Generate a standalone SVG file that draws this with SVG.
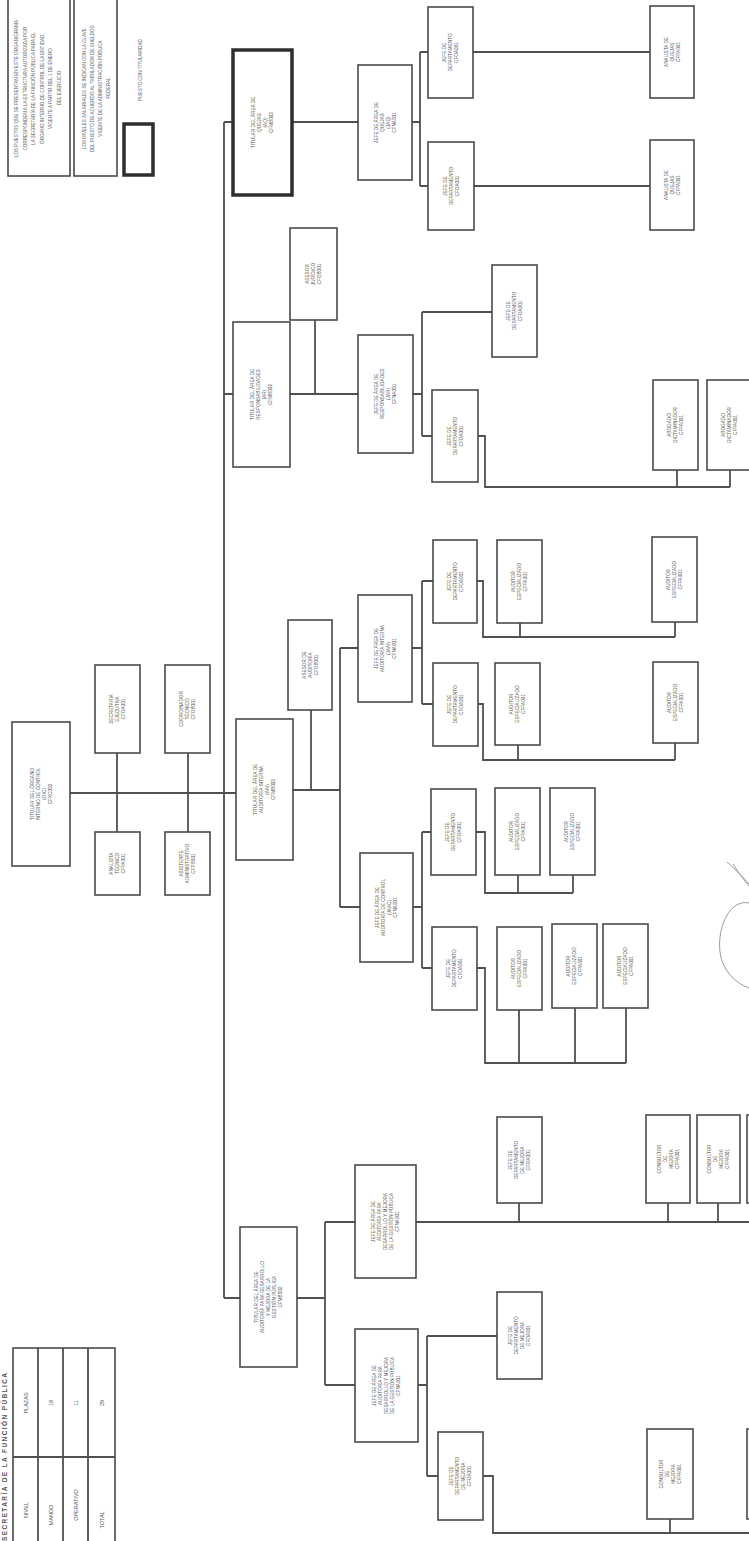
<svg xmlns="http://www.w3.org/2000/svg" width="749" height="1541" viewBox="0 0 749 1541">
<style>
.bx{fill:#fff;stroke:#4a4a4a;stroke-width:1.6}
.thick{fill:#fff;stroke:#2e2e2e;stroke-width:3.5}
.c{fill:none;stroke:#505050;stroke-width:1.8}
.t{font-family:"Liberation Sans",Arial,sans-serif;font-size:4.7px;fill:#555;text-anchor:middle}
.lg{font-family:"Liberation Sans",Arial,sans-serif;font-size:4.6px;fill:#666;text-anchor:middle}
.tb{font-family:"Liberation Sans",Arial,sans-serif;font-size:5.5px;fill:#555;text-anchor:middle}
.hd{font-family:"Liberation Sans",Arial,sans-serif;font-size:6.5px;font-weight:bold;fill:#555}
.sk{fill:none;stroke:#9a9a9a;stroke-width:1}
</style>
<rect x="0" y="0" width="749" height="1541" fill="#fff"/>

<g id="connectors">
<path class="c" d="M70,793 H236"/>
<path class="c" d="M117,753 V832 M188,753 V832"/>
<path class="c" d="M224,122 V1298 M224,122 H233 M224,394 H233 M224,1298 H240"/>
<path class="c" d="M292,122 H358"/>
<path class="c" d="M412,122 H420 M420,52 V186 M420,52 H428 M420,186 H428"/>
<path class="c" d="M473,52 H650 M474,186 H650"/>
<path class="c" d="M290,394 H358 M315,320 V394"/>
<path class="c" d="M413,394 H422 M422,312 V436 M422,312 H492 M422,436 H432"/>
<path class="c" d="M478,436 H485 V487 H730 M677,470 V487 M730,470 V487"/>
<path class="c" d="M293,790 H340 M340,648 V907 M340,648 H358 M340,907 H360 M311,710 V790"/>
<path class="c" d="M412,648 H422 M422,581 V704 M422,581 H433 M422,704 H433"/>
<path class="c" d="M477,581 H483 V637 H675 M520,623 V637 M675,622 V637"/>
<path class="c" d="M478,704 H483 V760 H675 M518,745 V760 M675,743 V760"/>
<path class="c" d="M413,907 H422 M422,832 V968 M422,832 H431 M422,968 H432"/>
<path class="c" d="M476,832 H485 V893 H573 M518,875 V893 M573,875 V893"/>
<path class="c" d="M477,968 H485 V1063 H626 M519,1010 V1063 M575,1008 V1063 M626,1008 V1063"/>
<path class="c" d="M297,1298 H325 M325,1222 V1385 M325,1222 H355 M325,1385 H355"/>
<path class="c" d="M416,1222 H749 M519,1203 V1222 M668,1203 V1222 M718,1203 V1222"/>
<path class="c" d="M418,1385 H427 M427,1336 V1476 M427,1336 H497 M427,1476 H438"/>
<path class="c" d="M483,1476 H493 V1533 H749 M670,1519 V1533"/>
</g>

<g id="legend">
<rect class="bx" x="8" y="-2" width="62" height="178"/>
<g transform="translate(39,88) rotate(-90)"><text class="lg">
<tspan x="0" y="-21">LOS PUESTOS QUE SE PRESENTAN EN ESTE ORGANIGRAMA</tspan>
<tspan x="0" y="-12.5">CORRESPONDEN A LA ESTRUCTURA AUTORIZADA POR</tspan>
<tspan x="0" y="-4">LA SECRETARÍA DE LA FUNCIÓN PÚBLICA PARA EL</tspan>
<tspan x="0" y="4.5">ÓRGANO INTERNO DE CONTROL DE LA ENTIDAD,</tspan>
<tspan x="0" y="13">VIGENTE A PARTIR DEL 1 DE ENERO</tspan>
<tspan x="0" y="21.5">DEL EJERCICIO</tspan>
</text></g>
<rect class="bx" x="74" y="-2" width="43" height="178"/>
<g transform="translate(95.5,88) rotate(-90)"><text class="lg">
<tspan x="0" y="-10">LOS NIVELES SALARIALES SE INDICAN CON LA CLAVE</tspan>
<tspan x="0" y="-2">DEL PUESTO DE ACUERDO AL TABULADOR DE SUELDOS</tspan>
<tspan x="0" y="6">VIGENTE DE LA ADMINISTRACIÓN PÚBLICA</tspan>
<tspan x="0" y="14">FEDERAL</tspan>
</text></g>
<g transform="translate(140,70) rotate(-90)"><text class="lg"><tspan x="0" y="1.6">PUESTO CON TITULARIDAD</tspan></text></g>
<rect class="thick" x="124" y="124" width="29" height="51"/>
</g>

<g id="table">
<g transform="translate(7,1541) rotate(-90)"><text class="hd" x="0" y="0" textLength="168" lengthAdjust="spacing">SECRETARÍA DE LA FUNCIÓN PÚBLICA</text></g>
<rect class="bx" x="13" y="1348" width="102" height="215"/>
<path class="c" d="M38,1348 V1541 M63,1348 V1541 M88,1348 V1541 M13,1457 H115"/>
<g transform="translate(25.5,1403) rotate(-90)"><text class="tb" y="2">PLAZAS</text></g>
<g transform="translate(25.5,1510) rotate(-90)"><text class="tb" y="2">NIVEL</text></g>
<g transform="translate(50.5,1403) rotate(-90)"><text class="tb" y="2">18</text></g>
<g transform="translate(50.5,1515) rotate(-90)"><text class="tb" y="2">MANDO</text></g>
<g transform="translate(75.5,1403) rotate(-90)"><text class="tb" y="2">11</text></g>
<g transform="translate(75.5,1505) rotate(-90)"><text class="tb" y="2">OPERATIVO</text></g>
<g transform="translate(101.5,1403) rotate(-90)"><text class="tb" y="2">29</text></g>
<g transform="translate(101.5,1520) rotate(-90)"><text class="tb" y="2">TOTAL</text></g>
</g>

<g id="root"><rect class="bx" x="12" y="722" width="58" height="144"/>
<g transform="translate(41,794) rotate(-90)"><text class="t"><tspan x="0" y="-7.4">TITULAR DEL ÓRGANO</tspan><tspan x="0" y="-1.4">INTERNO DE CONTROL</tspan><tspan x="0" y="4.6">(OIC)</tspan><tspan x="0" y="10.6">CFKC002</tspan></text></g></g>

<g id="staff-a"><rect class="bx" x="95" y="665" width="45" height="88"/>
<g transform="translate(117.5,709) rotate(-90)"><text class="t"><tspan x="0" y="-4.4">SECRETARIA</tspan><tspan x="0" y="1.6">EJECUTIVA</tspan><tspan x="0" y="7.6">CFOA001</tspan></text></g></g>
<g id="staff-b"><rect class="bx" x="165" y="665" width="45" height="88"/>
<g transform="translate(187.5,709) rotate(-90)"><text class="t"><tspan x="0" y="-4.4">COORDINADOR</tspan><tspan x="0" y="1.6">TÉCNICO</tspan><tspan x="0" y="7.6">CFOB001</tspan></text></g></g>
<g id="staff-c"><rect class="bx" x="95" y="832" width="45" height="63"/>
<g transform="translate(117.5,863.5) rotate(-90)"><text class="t"><tspan x="0" y="-4.4">ANALISTA</tspan><tspan x="0" y="1.6">TÉCNICO</tspan><tspan x="0" y="7.6">CFPA001</tspan></text></g></g>
<g id="staff-d"><rect class="bx" x="165" y="832" width="45" height="63"/>
<g transform="translate(187.5,863.5) rotate(-90)"><text class="t"><tspan x="0" y="-4.4">ASISTENTE</tspan><tspan x="0" y="1.6">ADMINISTRATIVO</tspan><tspan x="0" y="7.6">CFPB001</tspan></text></g></g>

<g id="area-quejas"><rect class="thick" x="233" y="50" width="59" height="145"/>
<g transform="translate(262.5,122.5) rotate(-90)"><text class="t"><tspan x="0" y="-7.4">TITULAR DEL ÁREA DE</tspan><tspan x="0" y="-1.4">QUEJAS</tspan><tspan x="0" y="4.6">(AQ)</tspan><tspan x="0" y="10.6">CFMB002</tspan></text></g></g>
<g id="area-responsabilidades"><rect class="bx" x="233" y="322" width="57" height="145"/>
<g transform="translate(261.5,394.5) rotate(-90)"><text class="t"><tspan x="0" y="-7.4">TITULAR DEL ÁREA DE</tspan><tspan x="0" y="-1.4">RESPONSABILIDADES</tspan><tspan x="0" y="4.6">(AR)</tspan><tspan x="0" y="10.6">CFMB002</tspan></text></g></g>
<g id="area-auditoria"><rect class="bx" x="236" y="719" width="57" height="141"/>
<g transform="translate(264.5,789.5) rotate(-90)"><text class="t"><tspan x="0" y="-7.4">TITULAR DEL ÁREA DE</tspan><tspan x="0" y="-1.4">AUDITORÍA INTERNA</tspan><tspan x="0" y="4.6">(AAI)</tspan><tspan x="0" y="10.6">CFMB002</tspan></text></g></g>
<g id="area-mejora"><rect class="bx" x="240" y="1227" width="57" height="140"/>
<g transform="translate(268.5,1297) rotate(-90)"><text class="t"><tspan x="0" y="-10.4">TITULAR DEL ÁREA DE</tspan><tspan x="0" y="-4.4">AUDITORÍA PARA DESARROLLO</tspan><tspan x="0" y="1.6">Y MEJORA DE LA</tspan><tspan x="0" y="7.6">GESTIÓN PÚBLICA</tspan><tspan x="0" y="13.6">CFMB002</tspan></text></g></g>

<g id="asesor-resp"><rect class="bx" x="290" y="228" width="47" height="92"/>
<g transform="translate(313.5,274) rotate(-90)"><text class="t"><tspan x="0" y="-4.4">ASESOR</tspan><tspan x="0" y="1.6">JURÍDICO</tspan><tspan x="0" y="7.6">CFOB001</tspan></text></g></g>
<g id="asesor-aud"><rect class="bx" x="288" y="620" width="44" height="90"/>
<g transform="translate(310,665) rotate(-90)"><text class="t"><tspan x="0" y="-4.4">ASESOR DE</tspan><tspan x="0" y="1.6">AUDITORÍA</tspan><tspan x="0" y="7.6">CFOB001</tspan></text></g></g>

<g id="jefe-quejas"><rect class="bx" x="358" y="65" width="54" height="115"/>
<g transform="translate(385,122.5) rotate(-90)"><text class="t"><tspan x="0" y="-7.4">JEFE DE ÁREA DE</tspan><tspan x="0" y="-1.4">QUEJAS</tspan><tspan x="0" y="4.6">(JAQ)</tspan><tspan x="0" y="10.6">CFNA001</tspan></text></g></g>
<g id="q1"><rect class="bx" x="428" y="7" width="45" height="91"/>
<g transform="translate(450.5,52.5) rotate(-90)"><text class="t"><tspan x="0" y="-4.4">JEFE DE</tspan><tspan x="0" y="1.6">DEPARTAMENTO</tspan><tspan x="0" y="7.6">CFOA001</tspan></text></g></g>
<g id="q2"><rect class="bx" x="428" y="142" width="46" height="88"/>
<g transform="translate(451,186) rotate(-90)"><text class="t"><tspan x="0" y="-4.4">JEFE DE</tspan><tspan x="0" y="1.6">DEPARTAMENTO</tspan><tspan x="0" y="7.6">CFOA001</tspan></text></g></g>
<g id="q1a"><rect class="bx" x="650" y="6" width="44" height="92"/>
<g transform="translate(672,52) rotate(-90)"><text class="t"><tspan x="0" y="-4.4">ANALISTA DE</tspan><tspan x="0" y="1.6">QUEJAS</tspan><tspan x="0" y="7.6">CFPA001</tspan></text></g></g>
<g id="q2a"><rect class="bx" x="650" y="140" width="44" height="90"/>
<g transform="translate(672,185) rotate(-90)"><text class="t"><tspan x="0" y="-4.4">ANALISTA DE</tspan><tspan x="0" y="1.6">QUEJAS</tspan><tspan x="0" y="7.6">CFPA001</tspan></text></g></g>

<g id="jefe-resp"><rect class="bx" x="358" y="335" width="55" height="118"/>
<g transform="translate(385.5,394) rotate(-90)"><text class="t"><tspan x="0" y="-7.4">JEFE DE ÁREA DE</tspan><tspan x="0" y="-1.4">RESPONSABILIDADES</tspan><tspan x="0" y="4.6">(JAR)</tspan><tspan x="0" y="10.6">CFNA001</tspan></text></g></g>
<g id="r1"><rect class="bx" x="492" y="265" width="45" height="92"/>
<g transform="translate(514.5,311) rotate(-90)"><text class="t"><tspan x="0" y="-4.4">JEFE DE</tspan><tspan x="0" y="1.6">DEPARTAMENTO</tspan><tspan x="0" y="7.6">CFOA001</tspan></text></g></g>
<g id="r2"><rect class="bx" x="432" y="390" width="46" height="92"/>
<g transform="translate(455,436) rotate(-90)"><text class="t"><tspan x="0" y="-4.4">JEFE DE</tspan><tspan x="0" y="1.6">DEPARTAMENTO</tspan><tspan x="0" y="7.6">CFOA001</tspan></text></g></g>
<g id="r2a"><rect class="bx" x="653" y="380" width="45" height="90"/>
<g transform="translate(675.5,425) rotate(-90)"><text class="t"><tspan x="0" y="-4.4">ABOGADO</tspan><tspan x="0" y="1.6">DICTAMINADOR</tspan><tspan x="0" y="7.6">CFPA001</tspan></text></g></g>
<g id="r2b"><rect class="bx" x="707" y="380" width="45" height="90"/>
<g transform="translate(729.5,425) rotate(-90)"><text class="t"><tspan x="0" y="-4.4">ABOGADO</tspan><tspan x="0" y="1.6">DICTAMINADOR</tspan><tspan x="0" y="7.6">CFPA001</tspan></text></g></g>

<g id="jefe-aud-1"><rect class="bx" x="358" y="595" width="54" height="107"/>
<g transform="translate(385,648.5) rotate(-90)"><text class="t"><tspan x="0" y="-7.4">JEFE DE ÁREA DE</tspan><tspan x="0" y="-1.4">AUDITORÍA INTERNA</tspan><tspan x="0" y="4.6">(JAAI)</tspan><tspan x="0" y="10.6">CFNA001</tspan></text></g></g>
<g id="a1"><rect class="bx" x="433" y="540" width="44" height="83"/>
<g transform="translate(455,581.5) rotate(-90)"><text class="t"><tspan x="0" y="-4.4">JEFE DE</tspan><tspan x="0" y="1.6">DEPARTAMENTO</tspan><tspan x="0" y="7.6">CFOA001</tspan></text></g></g>
<g id="a1b"><rect class="bx" x="497" y="540" width="45" height="83"/>
<g transform="translate(519.5,581.5) rotate(-90)"><text class="t"><tspan x="0" y="-4.4">AUDITOR</tspan><tspan x="0" y="1.6">ESPECIALIZADO</tspan><tspan x="0" y="7.6">CFPA001</tspan></text></g></g>
<g id="a1c"><rect class="bx" x="652" y="537" width="45" height="85"/>
<g transform="translate(674.5,579.5) rotate(-90)"><text class="t"><tspan x="0" y="-4.4">AUDITOR</tspan><tspan x="0" y="1.6">ESPECIALIZADO</tspan><tspan x="0" y="7.6">CFPA001</tspan></text></g></g>
<g id="a2"><rect class="bx" x="433" y="663" width="45" height="83"/>
<g transform="translate(455.5,704.5) rotate(-90)"><text class="t"><tspan x="0" y="-4.4">JEFE DE</tspan><tspan x="0" y="1.6">DEPARTAMENTO</tspan><tspan x="0" y="7.6">CFOA001</tspan></text></g></g>
<g id="a2b"><rect class="bx" x="495" y="663" width="45" height="82"/>
<g transform="translate(517.5,704) rotate(-90)"><text class="t"><tspan x="0" y="-4.4">AUDITOR</tspan><tspan x="0" y="1.6">ESPECIALIZADO</tspan><tspan x="0" y="7.6">CFPA001</tspan></text></g></g>
<g id="a2c"><rect class="bx" x="653" y="662" width="45" height="81"/>
<g transform="translate(675.5,702.5) rotate(-90)"><text class="t"><tspan x="0" y="-4.4">AUDITOR</tspan><tspan x="0" y="1.6">ESPECIALIZADO</tspan><tspan x="0" y="7.6">CFPA001</tspan></text></g></g>

<g id="jefe-aud-2"><rect class="bx" x="360" y="853" width="53" height="109"/>
<g transform="translate(386.5,907.5) rotate(-90)"><text class="t"><tspan x="0" y="-7.4">JEFE DE ÁREA DE</tspan><tspan x="0" y="-1.4">AUDITORÍA DE CONTROL</tspan><tspan x="0" y="4.6">(JAAC)</tspan><tspan x="0" y="10.6">CFNA001</tspan></text></g></g>
<g id="b1"><rect class="bx" x="431" y="789" width="45" height="86"/>
<g transform="translate(453.5,832) rotate(-90)"><text class="t"><tspan x="0" y="-4.4">JEFE DE</tspan><tspan x="0" y="1.6">DEPARTAMENTO</tspan><tspan x="0" y="7.6">CFOA001</tspan></text></g></g>
<g id="b1b"><rect class="bx" x="495" y="788" width="45" height="87"/>
<g transform="translate(517.5,831.5) rotate(-90)"><text class="t"><tspan x="0" y="-4.4">AUDITOR</tspan><tspan x="0" y="1.6">ESPECIALIZADO</tspan><tspan x="0" y="7.6">CFPA001</tspan></text></g></g>
<g id="b1c"><rect class="bx" x="550" y="788" width="45" height="87"/>
<g transform="translate(572.5,831.5) rotate(-90)"><text class="t"><tspan x="0" y="-4.4">AUDITOR</tspan><tspan x="0" y="1.6">ESPECIALIZADO</tspan><tspan x="0" y="7.6">CFPA001</tspan></text></g></g>
<g id="b2"><rect class="bx" x="432" y="927" width="45" height="83"/>
<g transform="translate(454.5,968.5) rotate(-90)"><text class="t"><tspan x="0" y="-4.4">JEFE DE</tspan><tspan x="0" y="1.6">DEPARTAMENTO</tspan><tspan x="0" y="7.6">CFOA001</tspan></text></g></g>
<g id="b2b"><rect class="bx" x="497" y="927" width="45" height="83"/>
<g transform="translate(519.5,968.5) rotate(-90)"><text class="t"><tspan x="0" y="-4.4">AUDITOR</tspan><tspan x="0" y="1.6">ESPECIALIZADO</tspan><tspan x="0" y="7.6">CFPA001</tspan></text></g></g>
<g id="b2c"><rect class="bx" x="552" y="924" width="45" height="84"/>
<g transform="translate(574.5,966) rotate(-90)"><text class="t"><tspan x="0" y="-4.4">AUDITOR</tspan><tspan x="0" y="1.6">ESPECIALIZADO</tspan><tspan x="0" y="7.6">CFPA001</tspan></text></g></g>
<g id="b2d"><rect class="bx" x="603" y="924" width="45" height="84"/>
<g transform="translate(625.5,966) rotate(-90)"><text class="t"><tspan x="0" y="-4.4">AUDITOR</tspan><tspan x="0" y="1.6">ESPECIALIZADO</tspan><tspan x="0" y="7.6">CFPA001</tspan></text></g></g>

<g id="jefe-mejora-1"><rect class="bx" x="355" y="1165" width="61" height="113"/>
<g transform="translate(385.5,1221.5) rotate(-90)"><text class="t"><tspan x="0" y="-10.4">JEFE DE ÁREA DE</tspan><tspan x="0" y="-4.4">AUDITORÍA PARA</tspan><tspan x="0" y="1.6">DESARROLLO Y MEJORA</tspan><tspan x="0" y="7.6">DE LA GESTIÓN PÚBLICA</tspan><tspan x="0" y="13.6">CFNA001</tspan></text></g></g>
<g id="m1"><rect class="bx" x="497" y="1117" width="45" height="86"/>
<g transform="translate(519.5,1160) rotate(-90)"><text class="t"><tspan x="0" y="-7.4">JEFE DE</tspan><tspan x="0" y="-1.4">DEPARTAMENTO</tspan><tspan x="0" y="4.6">DE MEJORA</tspan><tspan x="0" y="10.6">CFOA001</tspan></text></g></g>
<g id="m2"><rect class="bx" x="646" y="1115" width="44" height="88"/>
<g transform="translate(668,1159) rotate(-90)"><text class="t"><tspan x="0" y="-7.4">CONSULTOR</tspan><tspan x="0" y="-1.4">DE</tspan><tspan x="0" y="4.6">MEJORA</tspan><tspan x="0" y="10.6">CFPA001</tspan></text></g></g>
<g id="m3"><rect class="bx" x="697" y="1115" width="43" height="88"/>
<g transform="translate(718.5,1159) rotate(-90)"><text class="t"><tspan x="0" y="-7.4">CONSULTOR</tspan><tspan x="0" y="-1.4">DE</tspan><tspan x="0" y="4.6">MEJORA</tspan><tspan x="0" y="10.6">CFPA001</tspan></text></g></g>
<g id="m4"><rect class="bx" x="747" y="1115" width="45" height="88"/></g>

<g id="jefe-mejora-2"><rect class="bx" x="355" y="1329" width="63" height="113"/>
<g transform="translate(386.5,1385.5) rotate(-90)"><text class="t"><tspan x="0" y="-10.4">JEFE DE ÁREA DE</tspan><tspan x="0" y="-4.4">AUDITORÍA PARA</tspan><tspan x="0" y="1.6">DESARROLLO Y MEJORA</tspan><tspan x="0" y="7.6">DE LA GESTIÓN PÚBLICA</tspan><tspan x="0" y="13.6">CFNA001</tspan></text></g></g>
<g id="n1"><rect class="bx" x="497" y="1292" width="45" height="87"/>
<g transform="translate(519.5,1335.5) rotate(-90)"><text class="t"><tspan x="0" y="-7.4">JEFE DE</tspan><tspan x="0" y="-1.4">DEPARTAMENTO</tspan><tspan x="0" y="4.6">DE MEJORA</tspan><tspan x="0" y="10.6">CFOA001</tspan></text></g></g>
<g id="n2"><rect class="bx" x="438" y="1432" width="45" height="88"/>
<g transform="translate(460.5,1476) rotate(-90)"><text class="t"><tspan x="0" y="-7.4">JEFE DE</tspan><tspan x="0" y="-1.4">DEPARTAMENTO</tspan><tspan x="0" y="4.6">DE MEJORA</tspan><tspan x="0" y="10.6">CFOA001</tspan></text></g></g>
<g id="n2a"><rect class="bx" x="647" y="1429" width="46" height="90"/>
<g transform="translate(670,1474) rotate(-90)"><text class="t"><tspan x="0" y="-7.4">CONSULTOR</tspan><tspan x="0" y="-1.4">DE</tspan><tspan x="0" y="4.6">MEJORA</tspan><tspan x="0" y="10.6">CFPA001</tspan></text></g></g>
<g id="n2b"><rect class="bx" x="747" y="1429" width="45" height="90"/></g>

<g id="sketch">
<path class="sk" d="M727,862 C734,868 742,876 749,884"/>
<path class="sk" d="M749,903 C731,899 717,925 720,952 C722,970 735,983 749,988"/>
<path class="sk" d="M733,864 C738,872 744,880 749,886"/>
</g>
</svg>
